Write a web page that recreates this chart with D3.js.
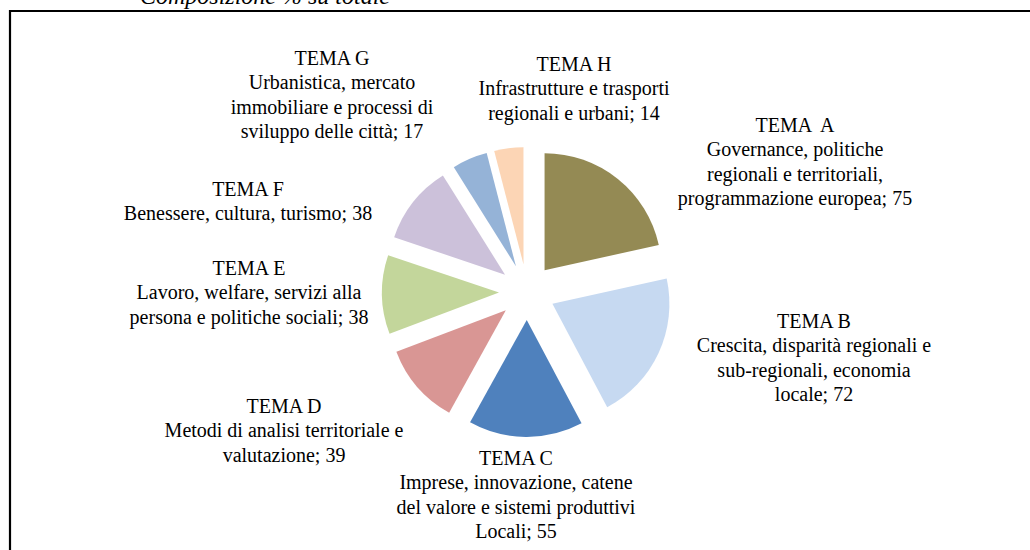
<!DOCTYPE html>
<html>
<head>
<meta charset="utf-8">
<script src="https://cdn.jsdelivr.net/npm/d3@7"></script>
<style>
    body { margin: 0; background: #fff; }
    svg { display: block; }
</style>
</head>
<body>
<div id="chartContainer"></div>
<script>
/***** Data */

const themes = ['TEMA  A', 'TEMA B', 'TEMA C', 'TEMA D', 'TEMA E', 'TEMA F', 'TEMA G', 'TEMA H'];
const values = [75, 72, 55, 39, 38, 38, 17, 14];
const descriptions = [
    ['Governance, politiche', 'regionali e territoriali,', 'programmazione europea'],
    ['Crescita, disparità regionali e', 'sub-regionali, economia', 'locale'],
    ['Imprese, innovazione, catene', 'del valore e sistemi produttivi', 'Locali'],
    ['Metodi di analisi territoriale e', 'valutazione'],
    ['Lavoro, welfare, servizi alla', 'persona e politiche sociali'],
    ['Benessere, cultura, turismo'],
    ['Urbanistica, mercato', 'immobiliare e processi di', 'sviluppo delle città'],
    ['Infrastrutture e trasporti', 'regionali e urbani']
];
const colors = ['#948A54', '#C6D9F1', '#4F81BD', '#D99694', '#C3D69B', '#CCC1DA', '#95B3D7', '#FCD5B5'];
const titleText = 'Composizione % su totale';

// label anchor: centre x, baseline of first line
const labelLayout = [
    [795, 132], [814, 328], [516, 465], [284, 413],
    [249, 275], [248, 196], [332, 65], [574, 71]
];

/***** Drawing */

const width = 1030;
const height = 550;
const cx = 527;
const cy = 292;
const radius = 117;
const explode = 28;
const lineGap = 24.4;
const serif = "'Liberation Serif', Tinos, 'Times New Roman', serif";

const svg = d3.select('#chartContainer').append('svg')
    .attr('width', width)
    .attr('height', height);

// frame (only top and left edges fall inside the picture)
svg.append('path')
    .attr('d', `M10,${height + 5} L10,11 L${width + 5},11`)
    .attr('fill', 'none')
    .attr('stroke', '#000')
    .attr('stroke-width', 2.2);

// chart title, cut by the top of the picture as in the source
svg.append('text')
    .attr('x', 140)
    .attr('y', 4)
    .attr('font-family', serif)
    .attr('font-size', 24)
    .attr('font-style', 'italic')
    .text(titleText);

const slices = d3.pie().sort(null).value(d => d)(values);
const arc = d3.arc().innerRadius(0).outerRadius(radius);

const pieGroup = svg.append('g')
    .attr('transform', `translate(${cx},${cy})`);

pieGroup.selectAll('.slice')
    .data(slices)
    .enter()
    .append('path')
    .attr('class', 'slice')
    .attr('d', arc)
    .attr('fill', (d, i) => colors[i])
    .attr('transform', d => {
        const mid = (d.startAngle + d.endAngle) / 2;
        return `translate(${explode * Math.sin(mid)},${-explode * Math.cos(mid)})`;
    });

const labels = svg.selectAll('.lbl')
    .data(themes)
    .enter()
    .append('text')
    .attr('class', 'lbl')
    .attr('font-family', serif)
    .attr('font-size', 20)
    .attr('fill', '#000')
    .attr('text-anchor', 'middle')
    .style('white-space', 'pre')
    .attr('transform', (t, i) => `translate(${labelLayout[i][0]},${labelLayout[i][1]})`);

labels.each(function (theme, i) {
    const desc = descriptions[i].slice();
    desc[desc.length - 1] += '; ' + values[i];
    const lines = [theme].concat(desc);
    d3.select(this).selectAll('tspan')
        .data(lines)
        .enter()
        .append('tspan')
        .attr('x', 0)
        .attr('y', (l, j) => j * lineGap)
        .text(l => l);
});
</script>
</body>
</html>
